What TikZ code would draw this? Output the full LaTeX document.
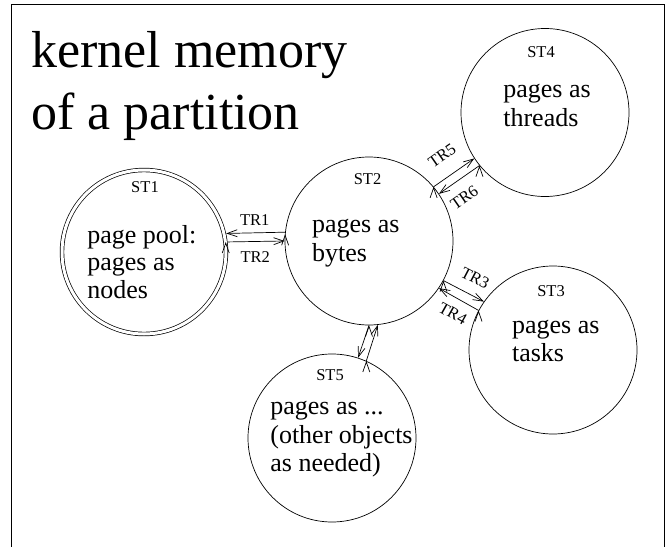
\documentclass[tikz,border=0pt]{standalone}
\usepackage{fontspec}
\setmainfont{Liberation Serif}
\usetikzlibrary{arrows.meta,calc}

\begin{document}
\begin{tikzpicture}
[x=1pt,y=-1pt,->,>={Straight Barb[length=10pt,width=7pt]},line width=0.7pt,
state/.style={circle,draw,minimum size=168pt,inner sep=0pt},
stname/.style={anchor=base,inner sep=0pt,font=\fontsize{16.5}{20}\selectfont},
sttext/.style={anchor=base west,align=left,inner sep=0pt,font=\fontsize{26}{28.5}\selectfont},
trname/.style={font=\fontsize{16.5}{20}\selectfont,inner sep=1pt}]
\useasboundingbox (0,0) rectangle (669,546);

% frame, open at the bottom
\coordinate (fbl) at (11,547);
\coordinate (ftl) at (11,4.5);
\coordinate (ftr) at (664.5,4.5);
\coordinate (fbr) at (664.5,547);
\draw[-,line width=1pt] (fbl) -- (ftl) -- (ftr) -- (fbr);

% base anchor = baseline of the last line
\node (title) at (31,129) [anchor=base west,align=left,inner sep=0pt,
  font=\fontsize{52}{62}\selectfont] {kernel memory\\of a partition};

\node (st1) at (144,252) [state,double,double distance=3pt,minimum size=164pt] {};
\node (st2) at (369,241) [state] {};
\node (st3) at (553,350) [state] {};
\node (st4) at (545,112.5) [state] {};
\node (st5) at (332,438) [state] {};

\node (st1n) at (145,192) [stname] {ST1};
\node (st2n) at (367.5,184) [stname] {ST2};
\node (st3n) at (551,296) [stname] {ST3};
\node (st4n) at (541,57) [stname] {ST4};
\node (st5n) at (330,380) [stname] {ST5};

\node (st1t) at (87,298.5) [sttext,font=\fontsize{26}{27.7}\selectfont] {page pool:\\pages as\\nodes};
\node (st2t) at (311.7,261) [sttext] {pages as\\bytes};
\node (st3t) at (511.7,361.7) [sttext] {pages as\\tasks};
\node (st4t) at (503,126) [sttext] {pages as\\threads};
\node (st5t) at (270,471.7) [sttext] {pages as ...\\(other objects\\as needed)};

\draw[shorten >=2pt] (st2.174) edge node [trname,above=6pt] {TR1} (st1.13);
\draw[shorten <=2pt] (st1.7) edge node [trname,below=8.5pt] {TR2} (st2.180);
\draw (st2.40) edge node [trname,sloped,above=14pt] {TR5} (st4.213);
\draw (st4.219) edge node [trname,sloped,below=10.5pt,pos=0.62] {TR6} (st2.34);
\draw (st2.-28) edge node [trname,sloped,above=10pt,pos=0.59] {TR3} (st3.145);
\draw (st3.152) edge node [trname,sloped,below=8.5pt,pos=0.46] {TR4} (st2.-34);
\draw (st2.-90) edge (st5.72);
\draw (st5.66) edge (st2.-84);

\end{tikzpicture}
\end{document}
